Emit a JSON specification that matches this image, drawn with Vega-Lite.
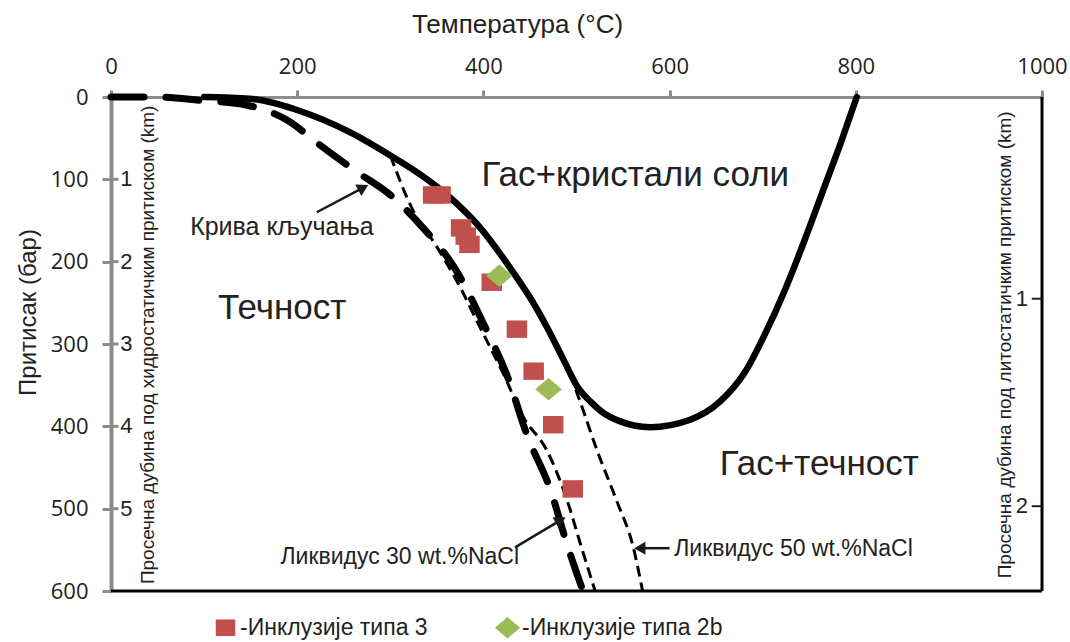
{
  "$schema": "https://vega.github.io/schema/vega-lite/v6.json",
  "width": 931,
  "height": 494,
  "autosize": {"type": "none"},
  "padding": {"left": 111, "top": 97, "right": 28, "bottom": 51},
  "background": "white",
  "config": {"view": {"stroke": null}, "font": "Liberation Sans"},
  "datasets": {
    "curves": [
      {"curve": "solid", "T": 100, "P": 0},
      {"curve": "solid", "T": 149, "P": 2},
      {"curve": "solid", "T": 203, "P": 17},
      {"curve": "solid", "T": 257, "P": 43},
      {"curve": "solid", "T": 300, "P": 71},
      {"curve": "solid", "T": 332, "P": 94},
      {"curve": "solid", "T": 361, "P": 119},
      {"curve": "solid", "T": 396, "P": 158},
      {"curve": "solid", "T": 432, "P": 213},
      {"curve": "solid", "T": 453, "P": 249},
      {"curve": "solid", "T": 468, "P": 279},
      {"curve": "solid", "T": 486, "P": 319},
      {"curve": "solid", "T": 501, "P": 352},
      {"curve": "solid", "T": 515, "P": 370},
      {"curve": "solid", "T": 528, "P": 383},
      {"curve": "solid", "T": 547, "P": 394},
      {"curve": "solid", "T": 579, "P": 401},
      {"curve": "solid", "T": 622, "P": 392},
      {"curve": "solid", "T": 654, "P": 370},
      {"curve": "solid", "T": 681, "P": 334},
      {"curve": "solid", "T": 702, "P": 289},
      {"curve": "solid", "T": 724, "P": 234},
      {"curve": "solid", "T": 745, "P": 174},
      {"curve": "solid", "T": 767, "P": 107},
      {"curve": "solid", "T": 785, "P": 52},
      {"curve": "solid", "T": 801, "P": 0},
      {"curve": "boiling", "T": 0, "P": 0},
      {"curve": "boiling", "T": 49, "P": 0},
      {"curve": "boiling", "T": 96, "P": 4},
      {"curve": "boiling", "T": 146, "P": 10},
      {"curve": "boiling", "T": 189, "P": 28},
      {"curve": "boiling", "T": 224, "P": 58},
      {"curve": "boiling", "T": 264, "P": 91},
      {"curve": "boiling", "T": 300, "P": 119},
      {"curve": "boiling", "T": 332, "P": 155},
      {"curve": "boiling", "T": 372, "P": 213},
      {"curve": "boiling", "T": 400, "P": 275},
      {"curve": "boiling", "T": 426, "P": 340},
      {"curve": "boiling", "T": 447, "P": 411},
      {"curve": "boiling", "T": 472, "P": 477},
      {"curve": "boiling", "T": 490, "P": 544},
      {"curve": "boiling", "T": 507, "P": 600},
      {"curve": "liq30", "T": 300, "P": 71},
      {"curve": "liq30", "T": 324, "P": 137},
      {"curve": "liq30", "T": 350, "P": 182},
      {"curve": "liq30", "T": 375, "P": 231},
      {"curve": "liq30", "T": 396, "P": 279},
      {"curve": "liq30", "T": 421, "P": 335},
      {"curve": "liq30", "T": 443, "P": 389},
      {"curve": "liq30", "T": 468, "P": 429},
      {"curve": "liq30", "T": 490, "P": 490},
      {"curve": "liq30", "T": 504, "P": 542},
      {"curve": "liq30", "T": 520, "P": 600},
      {"curve": "liq50", "T": 493, "P": 336},
      {"curve": "liq50", "T": 507, "P": 380},
      {"curve": "liq50", "T": 522, "P": 429},
      {"curve": "liq50", "T": 543, "P": 490},
      {"curve": "liq50", "T": 561, "P": 547},
      {"curve": "liq50", "T": 571, "P": 600}
    ],
    "inclusions": [
      {"type": "-Инклузије типа 3", "T": 346, "P": 119},
      {"type": "-Инклузије типа 3", "T": 354, "P": 119},
      {"type": "-Инклузије типа 3", "T": 376, "P": 159},
      {"type": "-Инклузије типа 3", "T": 381, "P": 169},
      {"type": "-Инклузије типа 3", "T": 385, "P": 179},
      {"type": "-Инклузије типа 3", "T": 409, "P": 225},
      {"type": "-Инклузије типа 3", "T": 436, "P": 282},
      {"type": "-Инклузије типа 3", "T": 454, "P": 333},
      {"type": "-Инклузије типа 3", "T": 475, "P": 398},
      {"type": "-Инклузије типа 3", "T": 496, "P": 476},
      {"type": "-Инклузије типа 2b", "T": 417, "P": 217},
      {"type": "-Инклузије типа 2b", "T": 470, "P": 355}
    ],
    "labels": [
      {"kind": "region", "label": "Гас+кристали соли", "T": 398, "P": 95},
      {"kind": "region", "label": "Течност", "T": 115, "P": 256},
      {"kind": "region", "label": "Гас+течност", "T": 654, "P": 446},
      {"kind": "boiling", "label": "Крива кључања", "T": 85, "P": 158},
      {"kind": "liquidus", "label": "Ликвидус 30 wt.%NaCl", "T": 182, "P": 559},
      {"kind": "liquidus", "label": "Ликвидус 50 wt.%NaCl", "T": 605, "P": 549}
    ],
    "depthTitles": [
      {"label": "Просечна дубина под хидростатичким притиском (km)", "T": 40, "P": 301},
      {"label": "Просечна дубина под литостатичким притиском (km)", "T": 960, "P": 301}
    ],
    "arrows": [
      {"arrow": "a1", "T": 221, "P": 140, "T2": 271, "P2": 110},
      {"arrow": "a2", "T": 434, "P": 547, "T2": 483, "P2": 514},
      {"arrow": "a3", "T": 600, "P": 548, "T2": 568, "P2": 548}
    ],
    "frame": [
      {"edge": "right", "T": 1000, "P": 0, "T2": 1000, "P2": 600},
      {"edge": "bottom", "T": 0, "P": 600, "T2": 1000, "P2": 600}
    ],
    "kmTicks": [
      {"scale": "hydro", "T": 0, "T2": 8, "P": 100},
      {"scale": "hydro", "T": 0, "T2": 8, "P": 200},
      {"scale": "hydro", "T": 0, "T2": 8, "P": 300},
      {"scale": "hydro", "T": 0, "T2": 8, "P": 400},
      {"scale": "hydro", "T": 0, "T2": 8, "P": 500},
      {"scale": "litho", "T": 989, "T2": 1000, "P": 245},
      {"scale": "litho", "T": 989, "T2": 1000, "P": 497}
    ],
    "kmLabels": [
      {"scale": "hydro", "km": "1", "T": 10, "P": 100},
      {"scale": "hydro", "km": "2", "T": 10, "P": 200},
      {"scale": "hydro", "km": "3", "T": 10, "P": 300},
      {"scale": "hydro", "km": "4", "T": 10, "P": 400},
      {"scale": "hydro", "km": "5", "T": 10, "P": 500},
      {"scale": "litho", "km": "1", "T": 985, "P": 245},
      {"scale": "litho", "km": "2", "T": 985, "P": 497}
    ]
  },
  "encoding": {
    "x": {
      "field": "T", "type": "quantitative", "title": "Температура (°C)",
      "scale": {"domain": [0, 1000], "nice": false, "zero": false},
      "axis": {
        "orient": "top", "values": [0, 200, 400, 600, 800, 1000], "grid": false, "format": "d",
        "labelFlush": false, "labelOverlap": false,
        "title": "Температура (°C)", "titleFont": "Liberation Sans", "titleFontSize": 26,
        "titleFontWeight": "normal", "titleColor": "#222", "titlePadding": 18, "titleX": 406, "titleAlign": "center",
        "labelFont": "Open Sans", "labelFontSize": 22, "labelColor": "#222", "labelPadding": 12,
        "domainColor": "#8c8c8c", "domainWidth": 3, "tickColor": "#8c8c8c", "tickWidth": 3, "tickSize": 7
      }
    },
    "y": {
      "field": "P", "type": "quantitative", "title": "Притисак (бар)",
      "scale": {"domain": [0, 600], "reverse": true, "nice": false, "zero": false},
      "axis": {
        "orient": "left", "values": [0, 100, 200, 300, 400, 500, 600], "grid": false,
        "labelFlush": false, "labelOverlap": false,
        "title": "Притисак (бар)", "titleFont": "Liberation Sans", "titleFontSize": 24,
        "titleFontWeight": "normal", "titleColor": "#222", "titlePadding": 10, "titleY": 215,
        "labelFont": "Open Sans", "labelFontSize": 22, "labelColor": "#222", "labelPadding": 14,
        "domainColor": "#8c8c8c", "domainWidth": 4, "tickColor": "#8c8c8c", "tickWidth": 3, "tickSize": 9
      }
    }
  },
  "layer": [
    {
      "data": {"name": "kmTicks"},
      "transform": [{"filter": "datum.scale === 'hydro'"}],
      "mark": {"type": "rule", "color": "#8c8c8c", "strokeWidth": 3},
      "encoding": {"x2": {"field": "T2"}}
    },
    {
      "data": {"name": "kmTicks"},
      "transform": [{"filter": "datum.scale === 'litho'"}],
      "mark": {"type": "rule", "color": "#222", "strokeWidth": 2},
      "encoding": {"x2": {"field": "T2"}}
    },
    {
      "data": {"name": "kmLabels"},
      "transform": [{"filter": "datum.scale === 'hydro'"}],
      "mark": {"type": "text", "align": "left", "baseline": "middle", "fontSize": 22, "color": "#222", "font": "Liberation Sans"},
      "encoding": {"text": {"field": "km"}}
    },
    {
      "data": {"name": "kmLabels"},
      "transform": [{"filter": "datum.scale === 'litho'"}],
      "mark": {"type": "text", "align": "right", "baseline": "middle", "fontSize": 22, "color": "#222", "font": "Liberation Sans"},
      "encoding": {"text": {"field": "km"}}
    },
    {
      "data": {"name": "depthTitles"},
      "mark": {"type": "text", "align": "center", "baseline": "middle", "angle": 270, "fontSize": 19, "color": "#222", "font": "Liberation Sans"},
      "encoding": {"text": {"field": "label"}}
    },
    {
      "data": {"name": "frame"},
      "mark": {"type": "rule", "color": "black", "strokeWidth": 3},
      "encoding": {"x2": {"field": "T2"}, "y2": {"field": "P2"}}
    },
    {
      "data": {"name": "curves"},
      "transform": [{"filter": "datum.curve === 'solid'"}],
      "mark": {"type": "line", "color": "black", "strokeWidth": 6.5, "interpolate": "monotone", "strokeCap": "round"}
    },
    {
      "data": {"name": "curves"},
      "transform": [{"filter": "datum.curve === 'boiling'"}],
      "mark": {"type": "line", "color": "black", "strokeWidth": 7, "interpolate": "monotone", "strokeCap": "round", "strokeDash": [33, 22]}
    },
    {
      "data": {"name": "curves"},
      "transform": [{"filter": "datum.curve === 'liq30' || datum.curve === 'liq50'"}],
      "mark": {"type": "line", "color": "black", "strokeWidth": 3, "interpolate": "monotone", "strokeDash": [11, 6]},
      "encoding": {"detail": {"field": "curve"}}
    },
    {
      "data": {"name": "arrows"},
      "mark": {"type": "rule", "color": "#1a1a1a", "strokeWidth": 2.5},
      "encoding": {"x2": {"field": "T2"}, "y2": {"field": "P2"}}
    },
    {
      "data": {"name": "arrows"},
      "transform": [{"filter": "datum.arrow === 'a1'"}],
      "mark": {"type": "point", "shape": "triangle-up", "filled": true, "color": "#1a1a1a", "size": 170, "angle": 62, "opacity": 1},
      "encoding": {"x": {"field": "T2", "type": "quantitative"}, "y": {"field": "P2", "type": "quantitative"}}
    },
    {
      "data": {"name": "arrows"},
      "transform": [{"filter": "datum.arrow === 'a2'"}],
      "mark": {"type": "point", "shape": "triangle-up", "filled": true, "color": "#1a1a1a", "size": 170, "angle": 60, "opacity": 1},
      "encoding": {"x": {"field": "T2", "type": "quantitative"}, "y": {"field": "P2", "type": "quantitative"}}
    },
    {
      "data": {"name": "arrows"},
      "transform": [{"filter": "datum.arrow === 'a3'"}],
      "mark": {"type": "point", "shape": "triangle-up", "filled": true, "color": "#1a1a1a", "size": 170, "angle": 270, "opacity": 1},
      "encoding": {"x": {"field": "T2", "type": "quantitative"}, "y": {"field": "P2", "type": "quantitative"}}
    },
    {
      "data": {"name": "labels"},
      "transform": [{"filter": "datum.kind === 'region'"}],
      "mark": {"type": "text", "align": "left", "baseline": "middle", "fontSize": 35, "color": "#222", "font": "Liberation Sans"},
      "encoding": {"text": {"field": "label"}}
    },
    {
      "data": {"name": "labels"},
      "transform": [{"filter": "datum.kind === 'boiling'"}],
      "mark": {"type": "text", "align": "left", "baseline": "middle", "fontSize": 25, "color": "#222", "font": "Liberation Sans"},
      "encoding": {"text": {"field": "label"}}
    },
    {
      "data": {"name": "labels"},
      "transform": [{"filter": "datum.kind === 'liquidus'"}],
      "mark": {"type": "text", "align": "left", "baseline": "middle", "fontSize": 23, "color": "#222", "font": "Liberation Sans"},
      "encoding": {"text": {"field": "label"}}
    },
    {
      "data": {"name": "inclusions"},
      "mark": {"type": "point", "filled": true, "opacity": 1, "size": 420, "strokeWidth": 0},
      "encoding": {
        "color": {
          "field": "type", "type": "nominal",
          "scale": {"domain": ["-Инклузије типа 3", "-Инклузије типа 2b"], "range": ["#C0504D", "#9BBB59"]},
          "legend": {
            "title": null, "orient": "none", "legendX": 103, "legendY": 519, "direction": "horizontal",
            "labelFont": "Liberation Sans", "labelFontSize": 23, "labelColor": "#222", "labelOffset": 3, "labelLimit": 0,
            "symbolSize": 380, "symbolStrokeWidth": 0, "columnPadding": 66, "padding": 0
          }
        },
        "shape": {
          "field": "type", "type": "nominal",
          "scale": {"domain": ["-Инклузије типа 3", "-Инклузије типа 2b"], "range": ["M-1,-0.85L1,-0.85L1,0.85L-1,0.85Z", "M-1.3,0L0,-1.1L1.3,0L0,1.1Z"]},
          "legend": {
            "title": null, "orient": "none", "legendX": 103, "legendY": 519, "direction": "horizontal",
            "labelFont": "Liberation Sans", "labelFontSize": 23, "labelColor": "#222", "labelOffset": 3, "labelLimit": 0,
            "symbolSize": 380, "symbolStrokeWidth": 0, "columnPadding": 66, "padding": 0
          }
        }
      }
    }
  ]
}
